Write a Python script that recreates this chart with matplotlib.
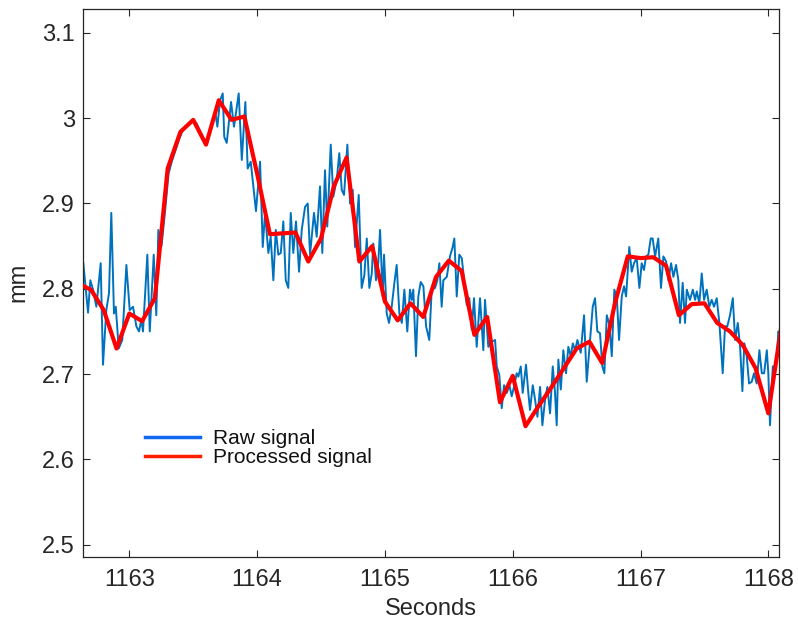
import matplotlib
matplotlib.use("Agg")
import matplotlib.pyplot as plt
from matplotlib.lines import Line2D

plt.rcParams['font.family'] = ['Liberation Sans', 'DejaVu Sans']

# ---- Data ----
raw_t = [
    1162.640, 1162.677, 1162.695, 1162.716, 1162.742, 1162.776, 1162.794, 1162.820, 1162.841, 1162.859,
    1162.880, 1162.894, 1162.917, 1162.945, 1162.977, 1163.003, 1163.029, 1163.055, 1163.076, 1163.094,
    1163.107, 1163.141, 1163.160, 1163.191, 1163.211, 1163.227,
    1163.252, 1163.279, 1163.307, 1163.334, 1163.361, 1163.389, 1163.416, 1163.444, 1163.471, 1163.498,
    1163.526, 1163.553, 1163.581, 1163.608, 1163.635, 1163.655,
    1163.671, 1163.689, 1163.710, 1163.731, 1163.743, 1163.762, 1163.796, 1163.819, 1163.856, 1163.880,
    1163.908, 1163.926, 1163.950, 1163.991, 1164.023, 1164.044, 1164.062, 1164.088, 1164.106, 1164.127,
    1164.146, 1164.166, 1164.185, 1164.205, 1164.224, 1164.244, 1164.263, 1164.283, 1164.304, 1164.328,
    1164.349, 1164.375, 1164.396, 1164.414, 1164.445, 1164.466, 1164.492, 1164.510, 1164.531, 1164.549,
    1164.576, 1164.596, 1164.623, 1164.643, 1164.662, 1164.680, 1164.706, 1164.727, 1164.748, 1164.766,
    1164.795, 1164.818, 1164.839, 1164.858, 1164.878, 1164.897, 1164.909, 1164.930, 1164.944, 1164.962,
    1164.983, 1164.993, 1165.014, 1165.032, 1165.053, 1165.074, 1165.092, 1165.113, 1165.132, 1165.152,
    1165.175, 1165.196, 1165.210, 1165.222, 1165.243, 1165.261,
    1165.280, 1165.301, 1165.322, 1165.347, 1165.366, 1165.392, 1165.410, 1165.426, 1165.444, 1165.457,
    1165.484, 1165.509, 1165.530, 1165.543, 1165.562, 1165.582, 1165.601, 1165.619, 1165.640, 1165.660,
    1165.679, 1165.697, 1165.718, 1165.744, 1165.770, 1165.783, 1165.809, 1165.836, 1165.862, 1165.875,
    1165.895, 1165.914, 1165.932, 1165.953, 1165.974, 1165.992, 1166.013, 1166.031, 1166.044, 1166.063,
    1166.078, 1166.104, 1166.122, 1166.135, 1166.157, 1166.175, 1166.193, 1166.214, 1166.232, 1166.253,
    1166.271, 1166.292, 1166.313, 1166.331, 1166.344, 1166.357, 1166.376, 1166.396, 1166.417, 1166.435,
    1166.454, 1166.470, 1166.488, 1166.506,
    1166.532, 1166.558, 1166.579, 1166.605, 1166.626, 1166.644, 1166.662, 1166.683, 1166.701, 1166.717,
    1166.736, 1166.756, 1166.775, 1166.795, 1166.814, 1166.832, 1166.853, 1166.871, 1166.887, 1166.912,
    1166.931, 1166.949, 1166.970, 1166.991, 1167.009, 1167.027, 1167.043, 1167.061, 1167.080, 1167.095,
    1167.114, 1167.139, 1167.160, 1167.179, 1167.200, 1167.218, 1167.239, 1167.257, 1167.278, 1167.296,
    1167.309, 1167.330, 1167.348, 1167.362, 1167.387, 1167.409, 1167.427, 1167.440, 1167.460, 1167.479,
    1167.497, 1167.518, 1167.538, 1167.557, 1167.575, 1167.596, 1167.617, 1167.643, 1167.661, 1167.679,
    1167.700, 1167.722, 1167.740, 1167.761, 1167.779, 1167.797, 1167.812, 1167.831, 1167.849, 1167.870,
    1167.888, 1167.909, 1167.930, 1167.949, 1167.967, 1167.988, 1168.000, 1168.013, 1168.035, 1168.053,
    1168.066, 1168.078, 1168.086, 1168.100,
]
raw_v = [
    2.830, 2.772, 2.810, 2.799, 2.779, 2.830, 2.711, 2.775, 2.795, 2.889,
    2.771, 2.779, 2.730, 2.740, 2.828, 2.775, 2.779, 2.756, 2.750, 2.764,
    2.750, 2.840, 2.750, 2.840, 2.769, 2.869,
    2.850, 2.890, 2.935, 2.950, 2.962, 2.975, 2.985, 2.990, 2.994, 2.997,
    2.994, 2.985, 2.976, 2.970, 2.985, 2.998,
    3.008, 2.990, 3.021, 3.029, 2.978, 2.971, 3.019, 2.990, 3.029, 2.951,
    3.019, 2.941, 2.949, 2.891, 2.949, 2.849, 2.889, 2.842, 2.861, 2.810,
    2.869, 2.840, 2.842, 2.879, 2.810, 2.801, 2.889, 2.842, 2.879, 2.820,
    2.869, 2.896, 2.900, 2.840, 2.889, 2.861, 2.920, 2.842, 2.939, 2.873,
    2.969, 2.908, 2.928, 2.959, 2.916, 2.910, 2.969, 2.900, 2.916, 2.849,
    2.910, 2.801, 2.816, 2.859, 2.801, 2.818, 2.853, 2.810, 2.820, 2.869,
    2.791, 2.840, 2.771, 2.760, 2.779, 2.807, 2.828, 2.771, 2.760, 2.799,
    2.750, 2.799, 2.787, 2.799, 2.721, 2.791,
    2.808, 2.803, 2.756, 2.740, 2.799, 2.801, 2.810, 2.830, 2.779, 2.810,
    2.814, 2.838, 2.849, 2.859, 2.791, 2.840, 2.836, 2.812, 2.781, 2.789,
    2.752, 2.789, 2.732, 2.789, 2.728, 2.787, 2.732, 2.738, 2.740, 2.709,
    2.699, 2.660, 2.687, 2.678, 2.687, 2.674, 2.687, 2.701, 2.697, 2.709,
    2.678, 2.711, 2.678, 2.658, 2.687, 2.670, 2.650, 2.685, 2.640, 2.670,
    2.685, 2.654, 2.709, 2.678, 2.640, 2.717, 2.682, 2.728, 2.701, 2.732,
    2.721, 2.736, 2.728, 2.740,
    2.725, 2.769, 2.691, 2.740, 2.779, 2.789, 2.750, 2.748, 2.709, 2.701,
    2.769, 2.758, 2.721, 2.799, 2.791, 2.740, 2.791, 2.803, 2.791, 2.849,
    2.820, 2.830, 2.836, 2.801, 2.830, 2.822, 2.838, 2.840, 2.859, 2.859,
    2.838, 2.859, 2.801, 2.838, 2.832, 2.810, 2.830, 2.814, 2.828, 2.810,
    2.760, 2.807, 2.760, 2.799, 2.787, 2.799, 2.787, 2.797, 2.783, 2.818,
    2.787, 2.799, 2.779, 2.787, 2.779, 2.789, 2.760, 2.701, 2.756, 2.756,
    2.769, 2.789, 2.740, 2.760, 2.732, 2.680, 2.736, 2.721, 2.689, 2.691,
    2.701, 2.689, 2.728, 2.701, 2.701, 2.728, 2.701, 2.640, 2.709, 2.709,
    2.717, 2.750, 2.748, 2.750,
]

proc_t = [
    1162.6, 1162.7, 1162.8, 1162.9, 1163.0, 1163.1, 1163.2, 1163.3, 1163.4, 1163.5,
    1163.6, 1163.7, 1163.8, 1163.9, 1164.0, 1164.1, 1164.2, 1164.3, 1164.4, 1164.5,
    1164.6, 1164.7, 1164.8, 1164.9, 1165.0, 1165.1, 1165.2, 1165.3, 1165.4, 1165.5,
    1165.6, 1165.7, 1165.8, 1165.9, 1166.0, 1166.1, 1166.2, 1166.3, 1166.4, 1166.5,
    1166.6, 1166.7, 1166.8, 1166.9, 1167.0, 1167.1, 1167.2, 1167.3, 1167.4, 1167.5,
    1167.6, 1167.7, 1167.8, 1167.9, 1168.0, 1168.1,
]
proc_v = [
    2.806, 2.799, 2.775, 2.730, 2.771, 2.762, 2.789, 2.941, 2.984, 2.998,
    2.969, 3.021, 2.998, 3.002, 2.935, 2.864, 2.865, 2.866, 2.832, 2.859,
    2.920, 2.954, 2.832, 2.850, 2.785, 2.763, 2.783, 2.767, 2.814, 2.833,
    2.821, 2.746, 2.767, 2.667, 2.698, 2.639, 2.662, 2.684, 2.707, 2.730,
    2.738, 2.713, 2.783, 2.838, 2.836, 2.837, 2.827, 2.769, 2.782, 2.783,
    2.760, 2.750, 2.734, 2.707, 2.654, 2.754,
]

x_ticks = [1163, 1164, 1165, 1166, 1167, 1168]
y_ticks = [2.5, 2.6, 2.7, 2.8, 2.9, 3.0, 3.1]
y_ticklabels = ['2.5', '2.6', '2.7', '2.8', '2.9', '3', '3.1']

# ---- Figure ----
fig = plt.figure(figsize=(7.98, 6.24), dpi=100)
ax = fig.add_axes([0.1044, 0.1079, 0.8722, 0.8777])

ax.plot(raw_t, raw_v, color='#0072BD', linewidth=1.4, zorder=2)
ax.plot(proc_t, proc_v, color='#FF0000', linewidth=3.0, zorder=3)

ax.set_xlim(1162.64, 1168.086)
ax.set_ylim(2.486, 3.128)
ax.set_xticks(x_ticks)
ax.set_xticklabels([str(v) for v in x_ticks])
ax.set_yticks(y_ticks)
ax.set_yticklabels(y_ticklabels)

for s in ax.spines.values():
    s.set_color('#262626')
    s.set_linewidth(0.9)

ax.tick_params(axis='both', direction='in', length=5, width=0.8, color='#262626',
               labelsize=17, labelcolor='#262626', top=True, right=True)
ax.tick_params(axis='x', pad=9)
ax.tick_params(axis='y', pad=6)

ax.set_xlabel('Seconds', fontsize=17, color='#262626', labelpad=5)
ax.set_ylabel('mm', fontsize=17, color='#262626', labelpad=9)

handles = [Line2D([0], [0], color='#1068F0', linewidth=2.5),
           Line2D([0], [0], color='#FF1E00', linewidth=2.5)]
leg = ax.legend(handles, ['Raw signal', 'Processed signal'], loc='lower left',
                bbox_to_anchor=(0.0886, 0.164), frameon=False, fontsize=15,
                handlelength=2.64, handletextpad=0.63, labelspacing=0.0,
                borderaxespad=0, borderpad=0)
for t in leg.get_texts():
    t.set_color('#111111')

fig.savefig('out.png', dpi=100)
